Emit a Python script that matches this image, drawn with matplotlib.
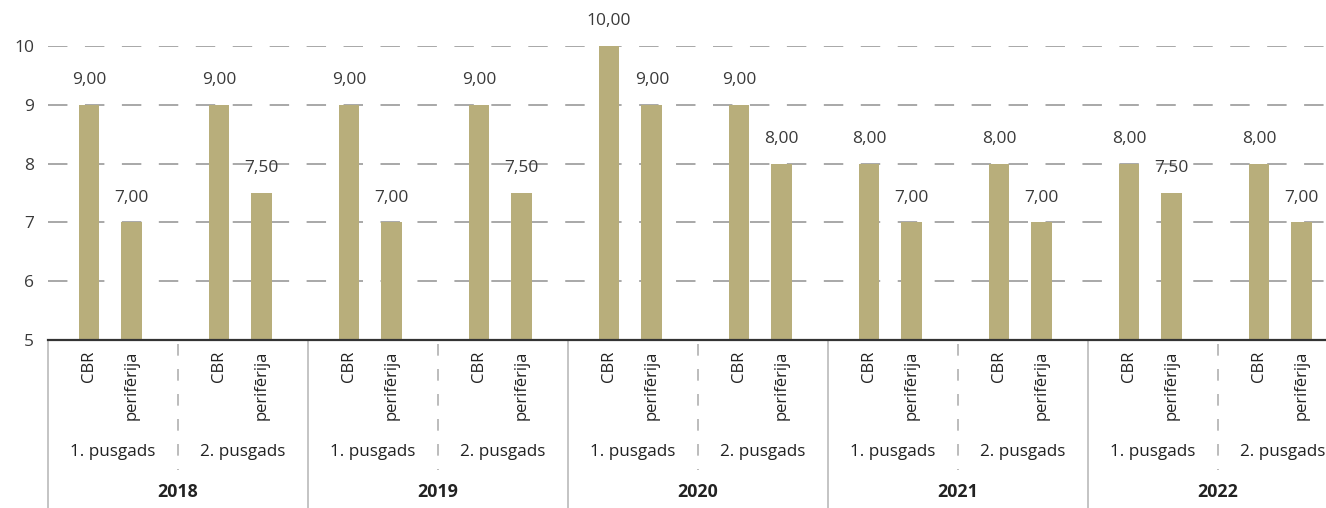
import numpy as np
import matplotlib.pyplot as plt
from matplotlib import transforms

# data
years = ['2018', '2019', '2020', '2021', '2022']
halves = ['1. pusgads', '2. pusgads']
series = ['CBR', 'perifērija']
cbr = [9.0, 9.0, 9.0, 9.0, 10.0, 9.0, 8.0, 8.0, 8.0, 8.0]
perif = [7.0, 7.5, 7.0, 7.5, 9.0, 8.0, 7.0, 7.0, 7.5, 7.0]

BAR = '#b8ae7b'
TXT = '#3a3a3a'
plt.rcParams['font.family'] = ['Open Sans', 'DejaVu Sans']

fig = plt.figure(figsize=(13.26, 5.08), dpi=100)
ax = fig.add_axes([48 / 1326, 168 / 508, 1300 / 1326, 294 / 508])

n = len(cbr)
g = np.arange(n) * 2.0
x_cbr = g + 0.63
x_per = g + 1.29
w = 0.32

ax.bar(x_cbr, np.array(cbr) - 5, bottom=5, width=w, color=BAR, zorder=3)
ax.bar(x_per, np.array(perif) - 5, bottom=5, width=w, color=BAR, zorder=3)

for xs, vals in ((x_cbr, cbr), (x_per, perif)):
  for x, v in zip(xs, vals):
    ax.annotate(('%.2f' % v).replace('.', ','), (x, v), xytext=(0, 12),
                textcoords='offset points', ha='center', va='bottom',
                fontsize=12.5, color=TXT, annotation_clip=False)

ax.set_xlim(0, 2 * n)
ax.set_ylim(5, 10)
ax.set_yticks([5, 6, 7, 8, 9, 10])
ax.tick_params(axis='y', length=0, labelsize=12.5, labelcolor=TXT, pad=10)
ax.set_xticks([])
for s in ['top', 'right', 'left']:
  ax.spines[s].set_visible(False)
ax.spines['bottom'].set_color('#333333')
ax.spines['bottom'].set_linewidth(1.6)
ax.spines['bottom'].set_zorder(4)

for y in [6, 7, 8, 9, 10]:
  ax.axhline(y, color='#a8a8a8', lw=1.4, dashes=(10, 9), zorder=1)

tr = transforms.blended_transform_factory(ax.transData, ax.transAxes)

def ay(py):
  return (340 - py) / 294.0

for x in x_cbr:
  ax.text(x, ay(351), series[0], rotation=90, ha='center', va='top',
          fontsize=12, color='#222222', transform=tr, clip_on=False)
for x in x_per:
  ax.text(x, ay(351), series[1], rotation=90, ha='center', va='top',
          fontsize=12, color='#222222', transform=tr, clip_on=False)

for i in range(n):
  ax.text(g[i] + 1.0, ay(452), halves[i % 2], ha='center', va='center',
          fontsize=12.3, color='#222222', transform=tr, clip_on=False)

for j, yr in enumerate(years):
  ax.text(4 * j + 2.0, ay(492), yr, ha='center', va='center',
          fontsize=12.8, fontweight='bold', color='#222222',
          transform=tr, clip_on=False)

# year separators and half-year separators
for j in range(len(years) + 1):
  ax.plot([4 * j, 4 * j], [0, ay(512)], color='#c4c4c4', lw=1.4,
          transform=tr, clip_on=False)
for j in range(len(years)):
  ax.plot([4 * j + 2, 4 * j + 2], [ay(344), ay(470)], color='#b0b0b0',
          lw=1.2, dashes=(7, 8), transform=tr, clip_on=False)

fig.savefig('out.png', dpi=100)
